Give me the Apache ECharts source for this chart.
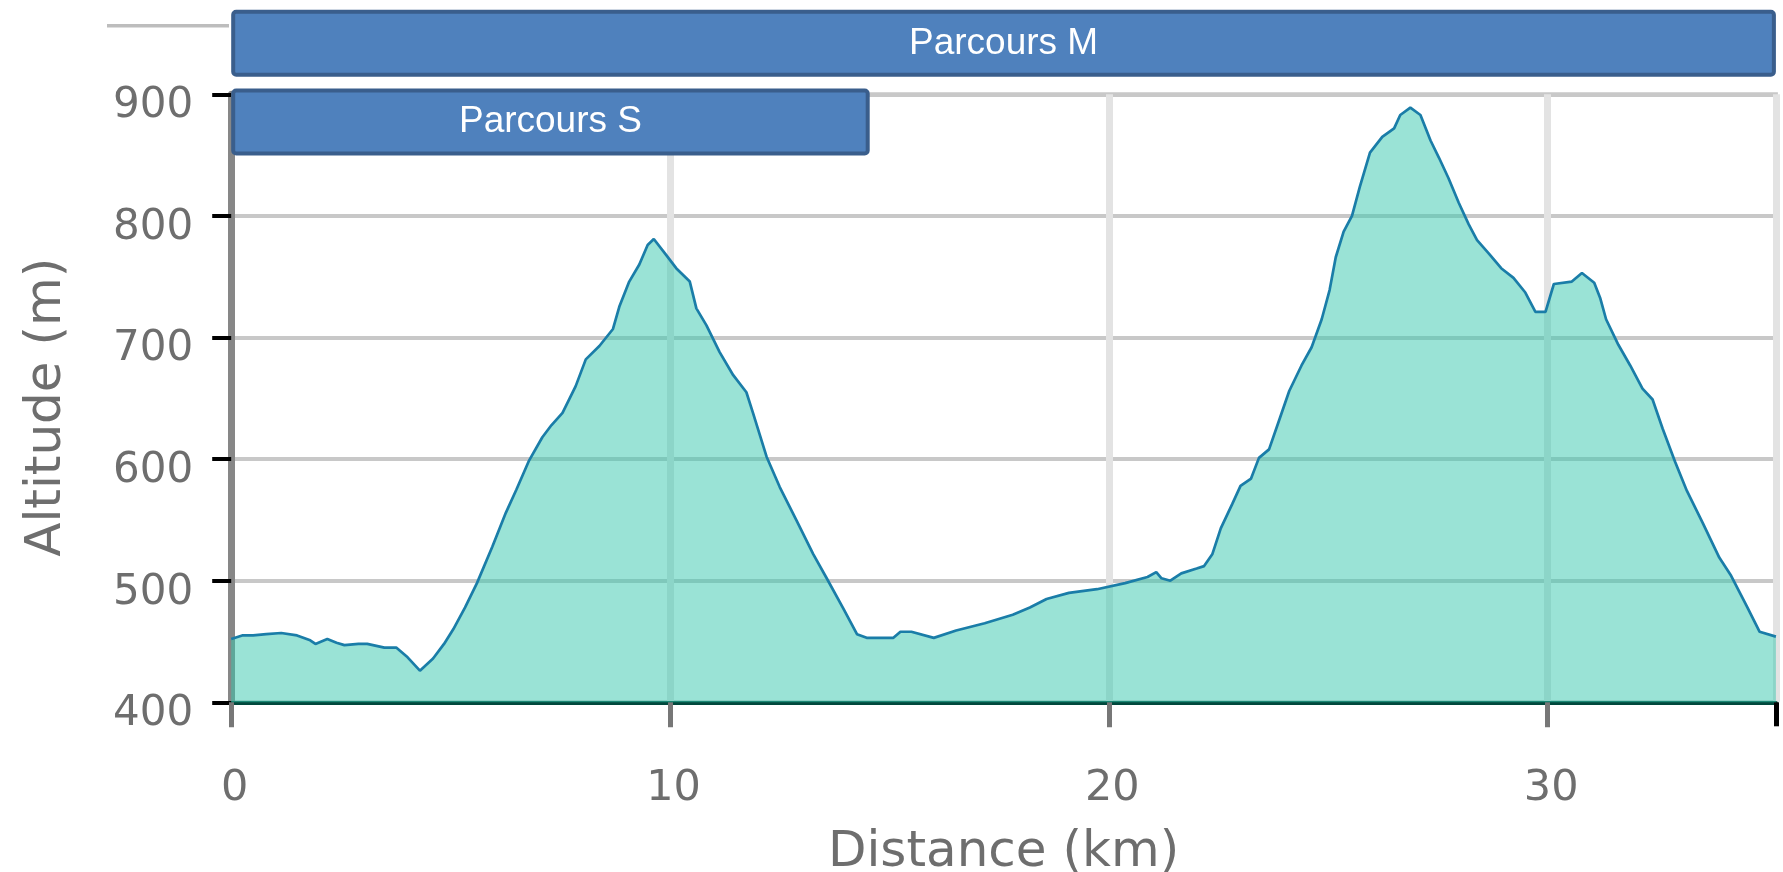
<!DOCTYPE html>
<html>
<head>
<meta charset="utf-8">
<script src="https://cdn.jsdelivr.net/npm/echarts@6/dist/echarts.min.js"></script>
<style>
  html, body { margin: 0; padding: 0; background: #fff; }
  #chart { width: 1783px; height: 872px; }
</style>
</head>
<body>
<div id="chart"></div>
<script>
// profil altimétrique : distance (km) / altitude (m)
var distKm = [
  0.0, 0.25, 0.5, 0.8, 1.14, 1.5, 1.8, 1.92, 2.19, 2.4, 2.58, 2.9, 3.1, 3.49, 3.76, 4.02, 4.3, 4.6, 4.85,
  5.06, 5.33, 5.6, 5.95, 6.26, 6.5, 6.79, 7.09, 7.3, 7.55, 7.85, 8.08, 8.39, 8.7, 8.85, 9.07, 9.3, 9.49,
  9.63, 9.91, 10.14, 10.45, 10.6, 10.83, 11.13, 11.44, 11.74, 11.89, 12.2, 12.5, 12.89, 13.26, 13.57,
  13.95, 14.26, 14.48, 15.09, 15.25, 15.5, 16.01, 16.52, 17.17, 17.81, 18.2, 18.58, 19.09, 19.73, 20.37,
  20.88, 21.08, 21.2, 21.4, 21.65, 22.0, 22.17, 22.36, 22.55, 22.81, 23.0, 23.24, 23.42, 23.65, 23.88,
  24.11, 24.39, 24.62, 24.85, 25.03, 25.17, 25.35, 25.54, 25.72, 25.95, 26.23, 26.5, 26.64, 26.87, 27.1,
  27.33, 27.52, 27.74, 27.97, 28.2, 28.39, 28.66, 28.94, 29.22, 29.49, 29.72, 29.95, 30.14, 30.55, 30.78,
  31.06, 31.2, 31.33, 31.61, 31.88, 32.16, 32.39, 32.62, 32.9, 33.17, 33.54, 33.91, 34.18, 34.55, 34.83,
  35.2
];
var altM = [
  452, 455, 455, 456, 457, 455, 451, 448, 452, 449, 447, 448, 448, 445, 445, 437, 426, 436, 448,
  460, 478, 498, 528, 556, 575, 599, 618, 628, 638, 660, 682, 693, 707, 726, 746, 760, 776,
  781, 768, 757, 746, 724, 710, 688, 669, 655, 638, 602, 577, 549, 522, 502,
  477, 456, 453, 453, 458, 458, 453, 459, 465, 472, 478, 485, 490, 493, 498,
  503, 507, 502, 500, 506, 510, 512, 522, 543, 563, 578, 584, 601, 608, 632,
  656, 677, 692, 715, 739, 766, 787, 800, 824, 852, 865, 872, 883, 889, 883,
  862, 848, 831, 811, 793, 780, 769, 757, 749, 737, 721, 721, 744, 746, 753,
  745, 732, 715, 694, 677, 658, 649, 625, 598, 574, 547, 519, 504, 478, 458,
  454
];

// parcours
var parcoursNoms = ['Parcours S', 'Parcours M'];
var parcoursFin = [14.55, 35.2];

var xMin = 0, xMax = 35.2, xStep = 10;
var yMin = 400, yMax = 900, yStep = 100;

var profil = [];
for (var i = 0; i < distKm.length; i++) {
  profil.push([distKm[i], altM[i]]);
}

var tickFont = 'DejaVu Sans';
var grisTexte = '#6e6e6e';

var myChart = echarts.init(document.getElementById('chart'), null, { renderer: 'canvas' });

var option = {
  animation: false,
  backgroundColor: '#ffffff',
  grid: [
    {
      left: 231.2, right: 7.1, top: 94.3, bottom: 169.7,
      outerBoundsMode: 'none', containLabel: false,
      show: true, borderColor: '#c8c8c8', borderWidth: 4, backgroundColor: 'transparent'
    },
    {
      left: 231.2, right: 7.1, top: 3.95, height: 157.4,
      outerBoundsMode: 'none', containLabel: false
    }
  ],
  xAxis: [
    {
      type: 'value', gridIndex: 0,
      min: xMin, max: xMax, interval: xStep,
      name: 'Distance (km)', nameLocation: 'middle', nameGap: 126,
      nameTextStyle: { fontFamily: tickFont, fontSize: 50, color: grisTexte },
      axisLine: { show: true, onZero: false, lineStyle: { color: '#00483c', width: 4 } },
      axisTick: { show: true, length: 25, lineStyle: { color: '#777777', width: 5 } },
      axisLabel: {
        fontFamily: tickFont, fontSize: 43, color: grisTexte, margin: 65,
        showMaxLabel: false, padding: [0, 0, 0, 7]
      },
      splitLine: { show: true, lineStyle: { color: '#e3e3e3', width: 7 } }
    },
    {
      type: 'value', gridIndex: 0, position: 'bottom',
      min: xMin, max: xMax,
      axisLine: { show: false },
      axisTick: { show: true, length: 24, customValues: [xMax], lineStyle: { color: '#000000', width: 5 } },
      axisLabel: { show: false },
      splitLine: { show: false }
    },
    {
      type: 'value', gridIndex: 1,
      min: xMin, max: xMax, show: false
    }
  ],
  yAxis: [
    {
      type: 'value', gridIndex: 0,
      min: yMin, max: yMax, interval: yStep,
      name: 'Altitude (m)', nameLocation: 'middle', nameGap: 159,
      nameTextStyle: { fontFamily: tickFont, fontSize: 50, color: grisTexte, padding: [0, 18, 0, 0] },
      axisLine: { show: true, lineStyle: { color: '#878787', width: 7 } },
      axisTick: { show: true, length: 19, lineStyle: { color: '#000000', width: 4 } },
      axisLabel: {
        fontFamily: tickFont, fontSize: 42, color: grisTexte, margin: 38,
        verticalAlign: 'top', lineHeight: 24
      },
      splitLine: { show: true, lineStyle: { color: '#c8c8c8', width: 4 } }
    },
    {
      type: 'category', gridIndex: 1,
      data: parcoursNoms, show: false
    }
  ],
  series: [
    {
      name: 'Altitude',
      type: 'line',
      xAxisIndex: 0, yAxisIndex: 0,
      data: profil,
      showSymbol: false,
      symbol: 'none',
      smooth: false,
      lineStyle: { color: '#1a7da8', width: 2.7 },
      areaStyle: { color: 'rgba(53,199,173,0.5)', opacity: 1, origin: 'start' },
      z: 2
    },
    {
      name: 'Parcours',
      type: 'bar',
      xAxisIndex: 2, yAxisIndex: 1,
      data: parcoursFin,
      barWidth: 67,
      clip: false,
      itemStyle: { color: '#4f81bd', borderColor: '#3a5e8c', borderWidth: 4, borderRadius: 3 },
      label: {
        show: true, position: 'inside', formatter: '{b}',
        color: '#ffffff', fontFamily: 'Liberation Sans', fontSize: 37
      },
      z: 5
    }
  ],
  graphic: [
    {
      type: 'line',
      shape: { x1: 107, y1: 25.8, x2: 229, y2: 25.8 },
      style: { stroke: '#bdbdbd', lineWidth: 3.5 }
    }
  ]
};

myChart.setOption(option);
</script>
</body>
</html>
